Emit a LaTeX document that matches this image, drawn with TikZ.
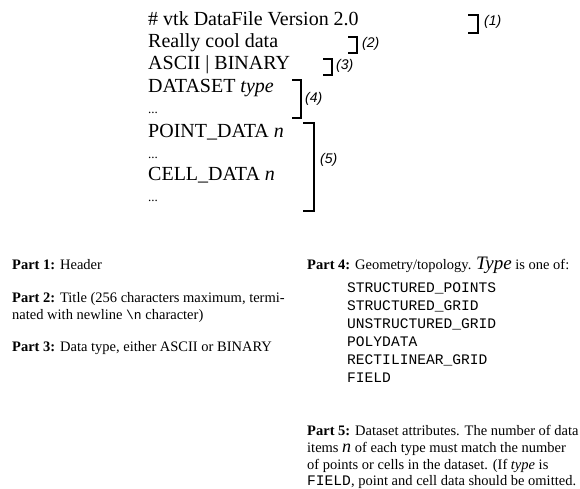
\documentclass[tikz,border=0pt]{standalone}
\usepackage{fontspec}
\setmainfont{Liberation Serif}
\setmonofont{Liberation Mono}
\newfontfamily\labfont{Liberation Sans}
\begin{document}
\begin{tikzpicture}[x=1pt,y=1pt,
  big/.style={anchor=base west,inner sep=0pt,font=\fontsize{20}{22}\selectfont},
  dots/.style={anchor=base west,inner sep=0pt,font=\fontsize{13}{15}\selectfont},
  small/.style={anchor=base west,inner sep=0pt,font=\fontsize{14.5}{17}\selectfont},
  mono/.style={anchor=base west,inner sep=0pt,font=\fontsize{14.6}{17}\ttfamily},
  brk/.style={line width=2.4pt,line cap=butt,line join=miter},
  lab/.style={anchor=west,inner sep=0pt,font=\labfont\itshape\fontsize{14}{16}\selectfont}]
\useasboundingbox (0,0) rectangle (580,488);
% top block
\node[big] (l1) at (148,462) {\# vtk DataFile Version 2.0};
\node[big] (l2) at (148,440) {Really cool data};
\node[big] (l3) at (148,418) {ASCII | BINARY};
\node[big] (l4) at (148,395) {DATASET \textit{type}};
\node[dots] (l5) at (148,374) {...};
\node[big] (l6) at (148,350) {POINT\_DATA \textit{n}};
\node[dots] (l7) at (148,330) {...};
\node[big] (l8) at (148,308) {CELL\_DATA \textit{n}};
\node[dots] (l9) at (148,287) {...};
% brackets
\draw[brk] (468,473) -- (478,473) -- (478,455) -- (468,455);
\node[lab] (b1) at (484,466) {(1)};
\draw[brk] (348,451) -- (357,451) -- (357,435) -- (348,435);
\node[lab] (b2) at (362,444) {(2)};
\draw[brk] (323,429) -- (332,429) -- (332,413) -- (323,413);
\node[lab] (b3) at (336,422) {(3)};
\draw[brk] (292,408) -- (301,408) -- (301,370) -- (292,370);
\node[lab] (b4) at (305,389) {(4)};
\draw[brk] (303,365) -- (314,365) -- (314,277) -- (303,277);
\node[lab] (b5) at (320,328) {(5)};
% left column
\node[small] (p1) at (12,219) {\textbf{Part 1:} Header};
\node[small] (p2a) at (12,186) {\textbf{Part 2:} Title (256 characters maximum, termi-};
\node[small] (p2b) at (12,169) {nated with newline {\ttfamily\fontsize{13}{15}\selectfont\textbackslash n} character)};
\node[small] (p3) at (12,137) {\textbf{Part 3:} Data type, either ASCII or BINARY};
% right column
\node[small] (p4) at (307,219) {\textbf{Part 4:} Geometry/topology. {\fontsize{19}{20}\selectfont\itshape Type} is one of:};
\node[mono] (t1) at (347,196) {STRUCTURED\_POINTS};
\node[mono] (t2) at (347,178) {STRUCTURED\_GRID};
\node[mono] (t3) at (347,160) {UNSTRUCTURED\_GRID};
\node[mono] (t4) at (347,142) {POLYDATA};
\node[mono] (t5) at (347,124) {RECTILINEAR\_GRID};
\node[mono] (t6) at (347,106) {FIELD};
\node[small] (p5a) at (307,53) {\textbf{Part 5:} Dataset attributes. The number of data};
\node[small] (p5b) at (307,36) {items {\fontsize{18}{20}\selectfont\itshape n} of each type must match the number};
\node[small] (p5c) at (307,19) {of points or cells in the dataset. (If \textit{type} is};
\node[small] (p5d) at (307,3) {{\ttfamily\fontsize{14.6}{17}\selectfont FIELD}, point and cell data should be omitted.};
\end{tikzpicture}
\end{document}
